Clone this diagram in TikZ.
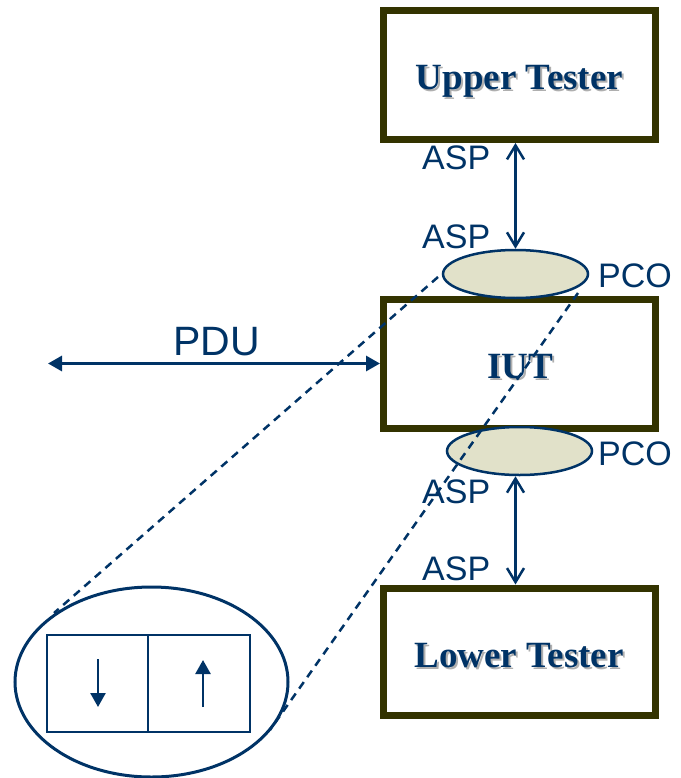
\documentclass[tikz,border=0pt]{standalone}
\usepackage{fontspec}
\setmainfont{Liberation Serif}
\newfontfamily\labelfont{Liberation Sans}
\usetikzlibrary{arrows.meta,shapes.geometric,calc}
\definecolor{dblue}{RGB}{0,51,102}
\definecolor{olive}{RGB}{51,51,0}
\definecolor{pcofill}{RGB}{225,225,201}
\definecolor{shade}{RGB}{175,175,175}
% bold title with a soft drop shadow set in the same box
\newcommand{\shadowtext}[1]{\makebox[0pt][l]{\hspace{2pt}\raisebox{-2pt}{\textcolor{shade}{#1}}}#1}
\begin{document}
\begin{tikzpicture}[x=1pt,y=-1pt,
  tester/.style={draw=olive,line width=7pt,fill=white,minimum width=272pt,inner sep=0pt},
  pco/.style={ellipse,draw=dblue,line width=2.5pt,fill=pcofill,minimum width=145pt,minimum height=48pt,inner sep=0pt},
  title/.style={font=\fontsize{37}{40}\selectfont\bfseries,text=dblue,anchor=base,inner sep=0pt},
  sig/.style={font=\labelfont\fontsize{34}{38}\selectfont,text=dblue,anchor=base west,inner sep=0pt},
  asparrow/.style={draw=dblue,line width=2.5pt,{Straight Barb[length=14pt,width=17pt]}-{Straight Barb[length=14pt,width=17pt]}},
  pduarrow/.style={draw=dblue,line width=3pt,{Triangle[length=14pt,width=15pt]}-{Triangle[length=14pt,width=15pt]}},
  cell/.style={draw=dblue,line width=2.8pt,minimum height=97pt,inner sep=0pt},
  cellarrow/.style={draw=dblue,line width=2.5pt,-{Triangle[length=14pt,width=15pt]}},
  zoomline/.style={draw=dblue,line width=2.5pt,dash pattern=on 8pt off 6pt}]
\useasboundingbox (0,0) rectangle (680,778);

% testers and the implementation under test
\node[tester,minimum height=128.5pt] (ut) at (519.5,75.25) {};
\node[tester,minimum height=129pt] (iut) at (519.5,363.5) {};
\node[tester,minimum height=127.5pt] (lt) at (519.5,651.75) {};

% shadowed box titles
\node[title] (utT) at (519.5,90) {\shadowtext{Upper Tester}};
\node[title] (iutT) at (520,378) {\shadowtext{IUT}};
\node[title] (ltT) at (519,667) {\shadowtext{Lower Tester}};

% points of control and observation
\node[pco] (pcoU) at (515.5,274) {};
\node[pco] (pcoL) at (519.5,451) {};
\node[sig] (pcoUT) at (598,287) {PCO};
\node[sig] (pcoLT) at (598,465) {PCO};

% abstract service primitives
\draw[asparrow] (pcoU.north |- ut.south) -- (pcoU.north);
\draw[asparrow] (pcoL.south -| pcoU.north) -- (lt.north -| pcoU.north);
\node[sig] (asp1) at (422,170) {ASP};
\node[sig] (asp2) at (422,248) {ASP};
\node[sig] (asp3) at (422,503) {ASP};
\node[sig] (asp4) at (422,580) {ASP};

% protocol data units
\coordinate (pduEnd) at (48,363.5);
\draw[pduarrow] (pduEnd) -- (iut.west);
\node[sig,font=\labelfont\fontsize{41}{44}\selectfont] (pdu) at (173,355) {PDU};

% magnified view of a PCO
\node[ellipse,draw=dblue,line width=3pt,minimum width=273pt,minimum height=190pt,inner sep=0pt] (zoomE) at (151.5,682) {};
\node[cell,minimum width=101pt] (cellL) at (97.5,683.5) {};
\node[cell,minimum width=102pt] (cellR) at (199,683.5) {};
\draw[cellarrow] ($(cellL.center)+(0.5,-24.5)$) -- ($(cellL.center)+(0.5,23.5)$);
\draw[cellarrow] ($(cellR.center)+(4,23.5)$) -- ($(cellR.center)+(4,-23.5)$);

% dashed projection lines
\coordinate (z1a) at (438,277);
\coordinate (z1b) at (54,613);
\coordinate (z2a) at (578,293);
\coordinate (z2b) at (270,730);
\draw[zoomline] (z1a) -- (z1b);
\draw[zoomline] (z2a) -- (z2b);
\end{tikzpicture}
\end{document}
